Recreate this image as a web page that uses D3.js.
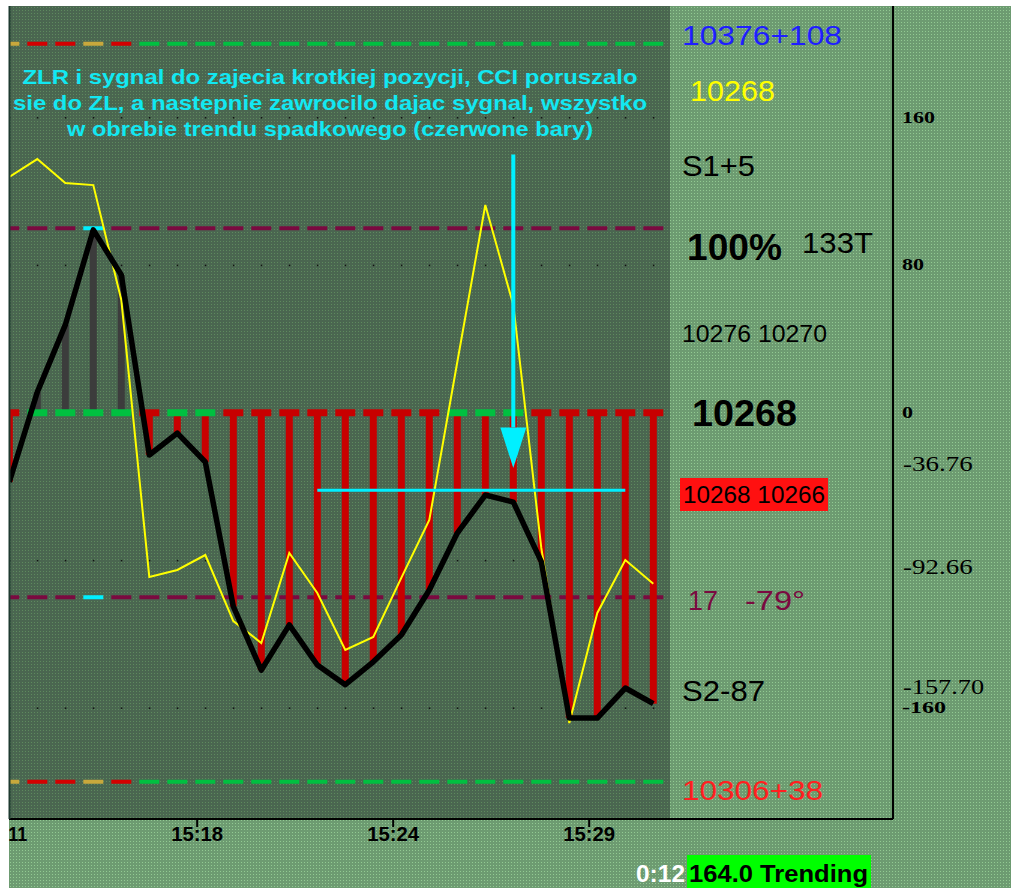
<!DOCTYPE html>
<html><head><meta charset="utf-8">
<script src="https://cdn.jsdelivr.net/npm/d3@7"></script>
<style>html,body{margin:0;padding:0;background:#fff;overflow:hidden}</style>
</head><body><svg id="c" width="1011" height="888"></svg>
<script>
// ---------- data ----------
const cci  = [-37.5, 11.2, 47.6, 99.1, 74.7, -22.9, -11.0, -26.7, -105.0, -139.5, -115.0, -136.7,
              -147.4, -135.0, -120.5, -96.1, -65.2, -44.6, -48.4, -80.7, -165.5, -165.5, -149.2, -157.7];
const tcci = [127.8, 137.5, 124.5, 123.4, 61.1, -89.0, -85.2, -77.1, -112.9, -124.8, -76.0, -97.7,
              -128.6, -121.5, -89.5, -58.1, 27.5, 112.6, 58.4, -73.3, -168.2, -108.5, -79.8, -92.66];
const zeroState = ["dn","up","up","up","up","dn","up","up","dn","dn","dn","dn",
                   "dn","dn","dn","dn","up","up","up","dn","dn","dn","dn","dn"];
const edgeState = ["nt","dn","dn","nt","dn","up","up","up","up","up","up","up",
                   "up","up","up","up","up","up","up","up","up","up","up","up"];
const xTickPos    = [-0.29, 6.71, 13.71, 20.71];
const xTickLabels = ["15:11", "15:18", "15:24", "15:29"];
const yTicks      = [160, 80, 0, -160];
const yValueLabels = ["-36.76", "-92.66", "-157.70"];
const edgeLevels = [200, -200];
const extLevels  = [100, -100];
const dotLevels  = [160, 80, -80, -160];
const noteLines = ["ZLR i sygnal do zajecia krotkiej pozycji, CCI poruszalo",
                   "sie do ZL, a nastepnie zawrocilo dajac sygnal, wszystko",
                   "w obrebie trendu spadkowego (czerwone bary)"];
const zlrIndex = 3;               // cyan markers on +/-100
const arrowIndex = 18, arrowFrom = 140, arrowTo = -30;
const hlineFrom = 11, hlineTo = 22, hlineValue = -42;

// ---------- setup ----------
const svg = d3.select("#c");
const W = 1011, H = 888;
const P = {l: 9, r: 670, t: 6, b: 819};
const x = d3.scaleLinear().domain([0, 23]).range([9.3, 653.3]);
const y = d3.scaleLinear().domain([200, -200]).range([43.75, 781.75]);

const defs = svg.append("defs");
function pat(id, base, dot) {
  const p = defs.append("pattern").attr("id", id).attr("width", 3).attr("height", 3)
    .attr("patternUnits", "userSpaceOnUse");
  p.append("rect").attr("width", 3).attr("height", 3).attr("fill", base);
  p.append("rect").attr("x", 1).attr("y", 1).attr("width", 1).attr("height", 1).attr("fill", dot);
}
pat("panelPat", "#6d9b71", "#92ca92");
pat("plotPat", "#4a6650", "#5e8a5e");
defs.append("clipPath").attr("id", "clip").append("rect")
  .attr("x", P.l).attr("y", P.t).attr("width", P.r - P.l).attr("height", P.b - P.t);

svg.append("rect").attr("width", W).attr("height", H).attr("fill", "#fff");
svg.append("rect").attr("x", P.l).attr("y", P.t).attr("width", W - P.l).attr("height", H - P.t).attr("fill", "url(#panelPat)");
svg.append("rect").attr("x", P.l).attr("y", P.t).attr("width", P.r - P.l).attr("height", P.b - P.t).attr("fill", "url(#plotPat)");

const g = svg.append("g").attr("clip-path", "url(#clip)");
const idx = d3.range(cci.length);

// dotted grid lines
dotLevels.forEach(v => {
  g.selectAll(null).data(idx).join("rect")
    .attr("x", d => x(d) - 0.5).attr("y", y(v) - 0.5).attr("width", 1.5).attr("height", 1.5).attr("fill", "#111");
});

// edge lines (+/-200)
const edgeColor = d3.scaleOrdinal().domain(["nt","dn","up"]).range(["#c8a83c","#d40000","#00c040"]);
edgeLevels.forEach(v => {
  g.selectAll(null).data(idx).join("rect")
    .attr("x", d => x(d) - 10).attr("y", y(v) - 2).attr("width", 20).attr("height", 4)
    .attr("fill", d => edgeColor(edgeState[d]));
});
// +/-100 lines
extLevels.forEach(v => {
  g.selectAll(null).data(idx).join("rect")
    .attr("x", d => x(d) - 10).attr("y", y(v) - 2).attr("width", 20).attr("height", 4)
    .attr("fill", d => d === zlrIndex ? "#00f0ff" : "#7a0a40");
});

// histogram bars
g.selectAll(".bar").data(idx).join("rect").attr("class", "bar")
  .attr("x", d => x(d) - 3.5).attr("width", 7)
  .attr("y", d => Math.min(y(0), y(cci[d])))
  .attr("height", d => Math.abs(y(cci[d]) - y(0)))
  .attr("fill", d => cci[d] > 0 ? "#3c3c3c" : "#c80000");

// zero line
const zeroColor = d3.scaleOrdinal().domain(["dn","up"]).range(["#c80000","#00c040"]);
g.selectAll(null).data(idx).join("rect")
  .attr("x", d => x(d) - 10).attr("y", y(0) - 3.5).attr("width", 20).attr("height", 7)
  .attr("fill", d => zeroColor(zeroState[d]));

// lines
const line = d3.line().x((d, i) => x(i)).y(d => y(d));
g.append("path").datum(tcci).attr("d", line).attr("fill", "none")
  .attr("stroke", "#ffff00").attr("stroke-width", 2);
g.append("path").datum(cci).attr("d", line).attr("fill", "none")
  .attr("stroke", "#000").attr("stroke-width", 5.5).attr("stroke-linejoin", "round");

// annotations
g.append("line").attr("x1", x(hlineFrom)).attr("x2", x(hlineTo)).attr("y1", y(hlineValue)).attr("y2", y(hlineValue))
  .attr("stroke", "#00f0ff").attr("stroke-width", 3);
const headTop = arrowTo + 22;
g.append("line").attr("x1", x(arrowIndex)).attr("x2", x(arrowIndex)).attr("y1", y(arrowFrom)).attr("y2", y(headTop))
  .attr("stroke", "#00f0ff").attr("stroke-width", 4);
g.append("path").attr("d", `M${x(arrowIndex)-13},${y(headTop)} L${x(arrowIndex)+13},${y(headTop)} L${x(arrowIndex)},${y(arrowTo)} Z`)
  .attr("fill", "#00f0ff");

// note text
const note = svg.append("g");
const noteLen = [615, 634, 526];
noteLines.forEach((t, i) => {
  note.append("text").attr("x", 330).attr("y", 84 + i * 26).attr("text-anchor", "middle")
    .attr("font-family", "Liberation Sans, Arial, sans-serif").attr("font-weight", "bold")
    .attr("font-size", 21).attr("fill", "#12e8f2")
    .attr("textLength", noteLen[i]).attr("lengthAdjust", "spacingAndGlyphs").text(t);
});

// frame lines
svg.append("line").attr("x1", P.l).attr("x2", 893).attr("y1", P.b).attr("y2", P.b).attr("stroke", "#000").attr("stroke-width", 2);
svg.append("line").attr("x1", 893).attr("x2", 893).attr("y1", P.t).attr("y2", P.b).attr("stroke", "#000").attr("stroke-width", 2);
svg.append("line").attr("x1", P.l + 0.5).attr("x2", P.l + 0.5).attr("y1", P.t).attr("y2", P.b).attr("stroke", "#1e3a30").attr("stroke-width", 2);

// x axis
const xa = svg.append("g");
xTickPos.forEach((p, i) => {
  const cx = x(p);
  const full = 52;
  xa.append("line").attr("x1", cx).attr("x2", cx).attr("y1", P.b).attr("y2", P.b + 8).attr("stroke", "#000").attr("stroke-width", 2)
    .attr("display", cx < P.l ? "none" : null);
  let label = xTickLabels[i];
  if (cx - full / 2 < P.l) {
    // only the part that fits right of the plot's left edge is shown
    label = label.slice(label.indexOf(":") + 1);
    xa.append("text").attr("x", cx + full / 2).attr("y", 841).attr("text-anchor", "end")
      .attr("font-family", "Liberation Sans, Arial, sans-serif").attr("font-weight", "bold").attr("font-size", 20)
      .attr("textLength", 19).attr("lengthAdjust", "spacingAndGlyphs").attr("fill", "#000").text(label);
  } else {
    xa.append("text").attr("x", cx).attr("y", 841).attr("text-anchor", "middle")
      .attr("font-family", "Liberation Sans, Arial, sans-serif").attr("font-weight", "bold").attr("font-size", 20)
      .attr("textLength", full).attr("lengthAdjust", "spacingAndGlyphs").attr("fill", "#000").text(label);
  }
});

// right y axis labels
yTicks.forEach(v => {
  const s = String(v);
  svg.append("text").attr("x", 902).attr("y", y(v) + 5).attr("font-family", "Liberation Serif, serif")
    .attr("font-weight", "bold").attr("font-size", 16).attr("fill", "#000")
    .attr("textLength", s.length * 11).attr("lengthAdjust", "spacingAndGlyphs").text(s);
});
yValueLabels.forEach(s => {
  svg.append("text").attr("x", 903).attr("y", y(+s) - 10).attr("font-family", "Liberation Serif, serif")
    .attr("font-size", 22).attr("fill", "#000")
    .attr("textLength", s.length * 11.6).attr("lengthAdjust", "spacingAndGlyphs").text(s);
});

// panel texts
function pt(t, px, py, size, color, len, bold) {
  return svg.append("text").attr("x", px).attr("y", py).attr("font-family", "Liberation Sans, Arial, sans-serif")
    .attr("font-size", size).attr("font-weight", bold ? "bold" : "normal").attr("fill", color)
    .attr("textLength", len).attr("lengthAdjust", "spacingAndGlyphs").text(t);
}
pt("10376+108", 682, 45, 27, "#1e1eff", 160);
pt("10268", 690, 101, 30, "#ffff00", 85);
pt("S1+5", 682, 176, 30, "#000", 73);
pt("100%", 687, 260, 36, "#000", 95, true);
pt("133T", 802, 253, 30, "#000", 71);
pt("10276 10270", 682, 342, 24, "#000", 145);
pt("10268", 692, 426, 36, "#000", 105, true);
svg.append("rect").attr("x", 680).attr("y", 478).attr("width", 148).attr("height", 33).attr("fill", "#ff1010");
pt("10268 10266", 683, 503, 24, "#000", 142);
pt("17", 688, 610, 28, "#7a0a40", 30);
pt("-79°", 745, 610, 28, "#7a0a40", 60);
pt("S2-87", 682, 701, 30, "#000", 83);
pt("10306+38", 682, 800, 28, "#ff2020", 141);

// status bar
svg.append("rect").attr("x", 687).attr("y", 855).attr("width", 184).attr("height", 33).attr("fill", "#00ff00");
pt("0:12", 636, 882, 24, "#fff", 49, true);
pt("164.0 Trending", 689, 882, 24, "#000", 179, true);
</script></body></html>
